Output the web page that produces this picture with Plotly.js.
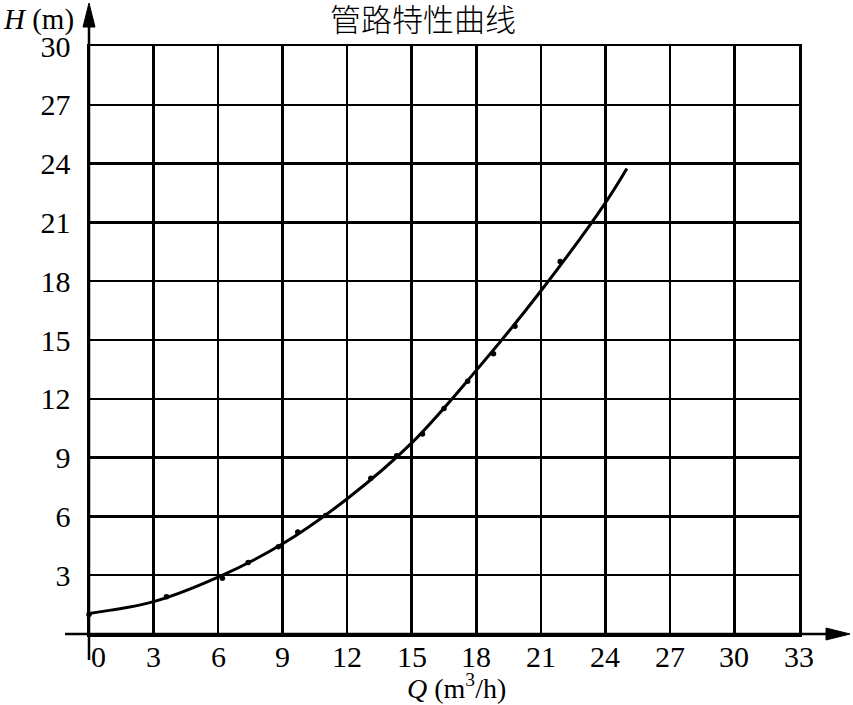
<!DOCTYPE html>
<html>
<head>
<meta charset="utf-8">
<script src="https://cdn.plot.ly/plotly-3.0.1.min.js"></script>
<style>html,body{margin:0;padding:0;background:#fff}#chart{width:853px;height:705px}</style>
</head>
<body>
<div id="chart"></div>
<script>
// Fitted pipeline characteristic curve
const curveQ = [0, 3, 6, 9, 12, 15, 18, 21, 24, 25];
const curveH = [1.05, 1.65, 2.9, 4.6, 6.9, 9.75, 13.45, 17.5, 22.0, 23.75];
// Measured points (small dots on the curve)
const pointQ = [0, 3.6, 6.2, 7.4, 8.8, 9.7, 11.0, 13.1, 14.3, 15.5, 16.5, 17.6, 18.8, 19.8, 21.9];
const pointH = [1.0, 1.9, 2.85, 3.65, 4.45, 5.2, 6.05, 7.95, 9.1, 10.2, 11.5, 12.9, 14.3, 15.7, 19.0];
// Tick labels
const xTicks = [0, 3, 6, 9, 12, 15, 18, 21, 24, 27, 30, 33];
const yTicks = [3, 6, 9, 12, 15, 18, 21, 24, 27, 30];

const W = 853, H = 705;
const M = {l: 89, r: 54, t: 46, b: 71};
const PW = W - M.l - M.r, PH = H - M.t - M.b;
const px = v => (v - M.l) / PW;           // pixel x -> paper
const py = v => (H - M.b - v) / PH;       // pixel y -> paper

const serif = "Liberation Serif, Times New Roman, serif";
const cjk = "Noto Sans CJK SC, sans-serif";
const tickFont = {family: serif, size: 30, color: '#000'};

const traces = [
  {x: curveQ, y: curveH, mode: 'lines', line: {color: '#000', width: 3, shape: 'spline', smoothing: 1}, hoverinfo: 'skip', cliponaxis: false},
  {x: pointQ, y: pointH, mode: 'markers', marker: {color: '#000', size: 5.5}, cliponaxis: false}
];

const shapes = [
  // x axis with arrow
  {type: 'line', xref: 'paper', yref: 'paper', x0: px(65), x1: px(830), y0: 0, y1: 0, line: {color: '#000', width: 2.5}},
  {type: 'path', xref: 'paper', yref: 'paper',
   path: `M ${px(850)} ${py(634)} L ${px(826)} ${py(628)} L ${px(826)} ${py(640)} Z`,
   fillcolor: '#000', line: {color: '#000', width: 1}},
  // y axis with arrow
  {type: 'line', xref: 'paper', yref: 'paper', x0: 0, x1: 0, y0: py(660), y1: py(20), line: {color: '#000', width: 2.5}},
  {type: 'path', xref: 'paper', yref: 'paper',
   path: `M ${px(89)} ${py(3)} L ${px(83)} ${py(27)} L ${px(95)} ${py(27)} Z`,
   fillcolor: '#000', line: {color: '#000', width: 1}}
];

const annotations = xTicks.map(v => ({
  xref: 'x', yref: 'paper', x: v, y: py(656), text: String(v), showarrow: false,
  xshift: v === 0 ? 9 : 0, font: tickFont, xanchor: 'center', yanchor: 'middle'
})).concat([
  {xref: 'paper', yref: 'paper', x: px(1), y: py(19), text: '<i>H</i> (m)', showarrow: false,
   font: {family: serif, size: 29, color: '#000'}, xanchor: 'left', yanchor: 'middle'},
  {xref: 'paper', yref: 'paper', x: px(456), y: py(686), text: '<i>Q</i> (m<sup>3</sup>/h)', showarrow: false,
   font: {family: serif, size: 28, color: '#000'}, xanchor: 'center', yanchor: 'middle'}
]);

const layout = {
  width: W, height: H,
  margin: M,
  paper_bgcolor: '#fff', plot_bgcolor: '#fff',
  showlegend: false,
  title: {text: '管路特性曲线', font: {family: cjk, size: 31, color: '#000', weight: 300}, x: px(441), xanchor: 'center', y: 1 - 20 / H, yanchor: 'middle'},
  xaxis: {range: [0, 33], tickvals: xTicks, showticklabels: false, showgrid: true, gridcolor: '#000', gridwidth: 2.5,
          zeroline: false, showline: true, mirror: true, linecolor: '#000', linewidth: 2.5, ticks: '', fixedrange: true},
  yaxis: {range: [0, 30], tickvals: yTicks, ticktext: yTicks.map(String), showgrid: true, gridcolor: '#000', gridwidth: 2.5,
          zeroline: false, showline: true, mirror: true, linecolor: '#000', linewidth: 2.5, ticks: '',
          tickfont: tickFont, ticklabelstandoff: 10, fixedrange: true},
  shapes: shapes,
  annotations: annotations
};

Plotly.newPlot('chart', traces, layout, {staticPlot: true, displayModeBar: false});
</script>
</body>
</html>
